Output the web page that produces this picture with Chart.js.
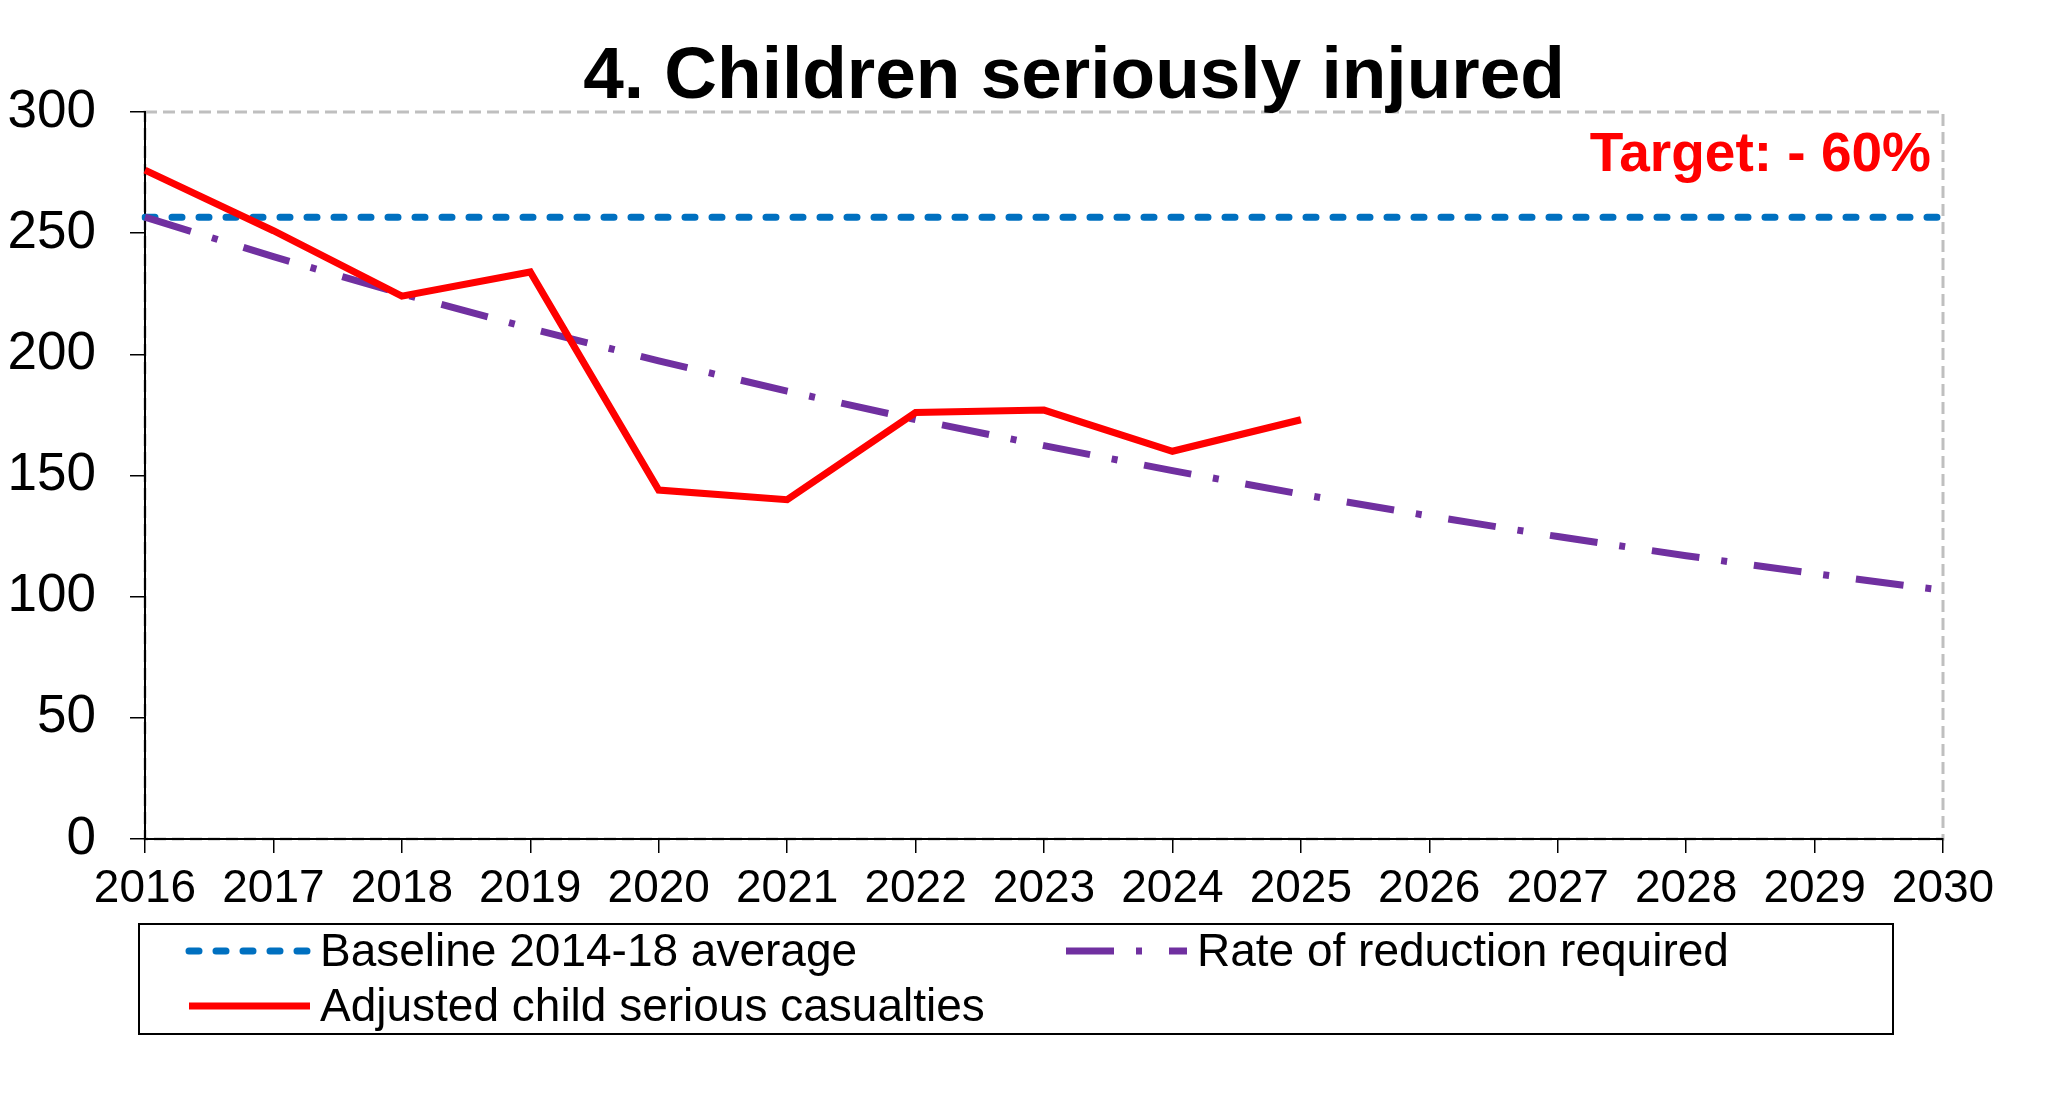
<!DOCTYPE html>
<html>
<head>
<meta charset="utf-8">
<script src="https://cdn.jsdelivr.net/npm/chart.js@4.4.1/dist/chart.umd.min.js"></script>
<style>
  body { margin: 0; background: #fff; }
  canvas { display: block; }
</style>
</head>
<body>
<canvas id="chart" width="2068" height="1113"></canvas>
<script>
const years = ['2016','2017','2018','2019','2020','2021','2022','2023','2024','2025','2026','2027','2028','2029','2030'];
const baseline = [256.6,256.6,256.6,256.6,256.6,256.6,256.6,256.6,256.6,256.6,256.6,256.6,256.6,256.6,256.6];
const reductionRequired = [256.6,240.3,225.0,210.7,197.3,184.8,173.1,162.3,152.0,142.3,133.3,124.8,116.9,109.5,102.6];
const adjustedCasualties = [276,251,224,234,144,140,176,177,160,173];
const yMin = 0, yMax = 300, yStep = 50;

const titleText = '4. Children seriously injured';
const targetText = 'Target: - 60%';
const fontFam = '"Liberation Sans", Arial, sans-serif';

// dashed grey frame around plot, title and target label
const framePlugin = {
  id: 'frame',
  beforeDraw(chart) {
    const ctx = chart.ctx, a = chart.chartArea;
    ctx.save();
    ctx.strokeStyle = '#BFBFBF';
    ctx.lineWidth = 3;
    ctx.setLineDash([12, 6]);
    ctx.strokeRect(a.left, a.top, a.right - a.left, a.bottom - a.top);
    ctx.restore();
  },
  afterDraw(chart) {
    const ctx = chart.ctx, a = chart.chartArea;
    ctx.save();
    ctx.fillStyle = '#000';
    ctx.font = 'bold 73px ' + fontFam;
    ctx.textAlign = 'center';
    ctx.textBaseline = 'alphabetic';
    ctx.fillText(titleText, 1074, 98);
    ctx.fillStyle = '#FF0000';
    ctx.font = 'bold 55px ' + fontFam;
    ctx.textAlign = 'right';
    ctx.fillText(targetText, a.right - 12, 171);
    ctx.restore();
  }
};

// boxed legend under the axis, two columns
const boxLegend = {
  id: 'boxLegend',
  afterDraw(chart) {
    const ctx = chart.ctx;
    const ds = chart.data.datasets;
    const slots = [
      { i: 2, x: 189, y: 951 },
      { i: 1, x: 1066, y: 951 },
      { i: 0, x: 189, y: 1006 }
    ];
    ctx.save();
    ctx.strokeStyle = '#000';
    ctx.lineWidth = 2;
    ctx.setLineDash([]);
    ctx.strokeRect(139, 924, 1754, 110);
    ctx.font = '46px ' + fontFam;
    ctx.textBaseline = 'middle';
    ctx.textAlign = 'left';
    slots.forEach(s => {
      const d = ds[s.i];
      ctx.save();
      ctx.strokeStyle = d.borderColor;
      ctx.lineWidth = d.borderWidth;
      ctx.lineCap = d.borderCapStyle || 'butt';
      ctx.setLineDash(d.borderDash || []);
      ctx.beginPath();
      ctx.moveTo(s.x, s.y);
      ctx.lineTo(s.x + 121, s.y);
      ctx.stroke();
      ctx.restore();
      ctx.fillStyle = '#000';
      ctx.fillText(d.label, s.x + 131, s.y + 2);
    });
    ctx.restore();
  }
};

new Chart(document.getElementById('chart'), {
  type: 'line',
  data: {
    labels: years,
    datasets: [
      {
        label: 'Adjusted child serious casualties',
        data: adjustedCasualties,
        borderColor: '#FF0000',
        borderWidth: 7,
        pointRadius: 0,
        tension: 0,
        fill: false
      },
      {
        label: 'Rate of reduction required',
        data: reductionRequired,
        borderColor: '#7030A0',
        borderWidth: 7,
        borderDash: [48, 22, 6, 27],
        pointRadius: 0,
        tension: 0,
        fill: false
      },
      {
        label: 'Baseline 2014-18 average',
        data: baseline,
        borderColor: '#0070C0',
        borderWidth: 7,
        borderDash: [10, 17],
        borderCapStyle: 'round',
        pointRadius: 0,
        tension: 0,
        fill: false
      }
    ]
  },
  options: {
    responsive: false,
    devicePixelRatio: 1,
    animation: false,
    layout: { padding: { left: 0, right: 125, top: 112, bottom: 194 } },
    plugins: {
      legend: { display: false },
      title: { display: false },
      tooltip: { enabled: false }
    },
    scales: {
      x: {
        offset: false,
        afterFit: s => { s.height = 80; },
        grid: { drawOnChartArea: false, drawTicks: true, tickLength: 14, color: '#000', lineWidth: 1.5 },
        border: { display: true, color: '#000', width: 2 },
        ticks: { color: '#000', font: { family: fontFam, size: 46 }, padding: 9, maxRotation: 0, autoSkip: false }
      },
      y: {
        min: yMin,
        max: yMax,
        afterFit: s => { s.width = 145; },
        grid: { drawOnChartArea: false, drawTicks: true, tickLength: 15, color: '#000', lineWidth: 1.5 },
        border: { display: true, color: '#000', width: 2 },
        ticks: { stepSize: yStep, color: '#000', font: { family: fontFam, size: 53 }, padding: 34 }
      }
    }
  },
  plugins: [framePlugin, boxLegend]
});
</script>
</body>
</html>
